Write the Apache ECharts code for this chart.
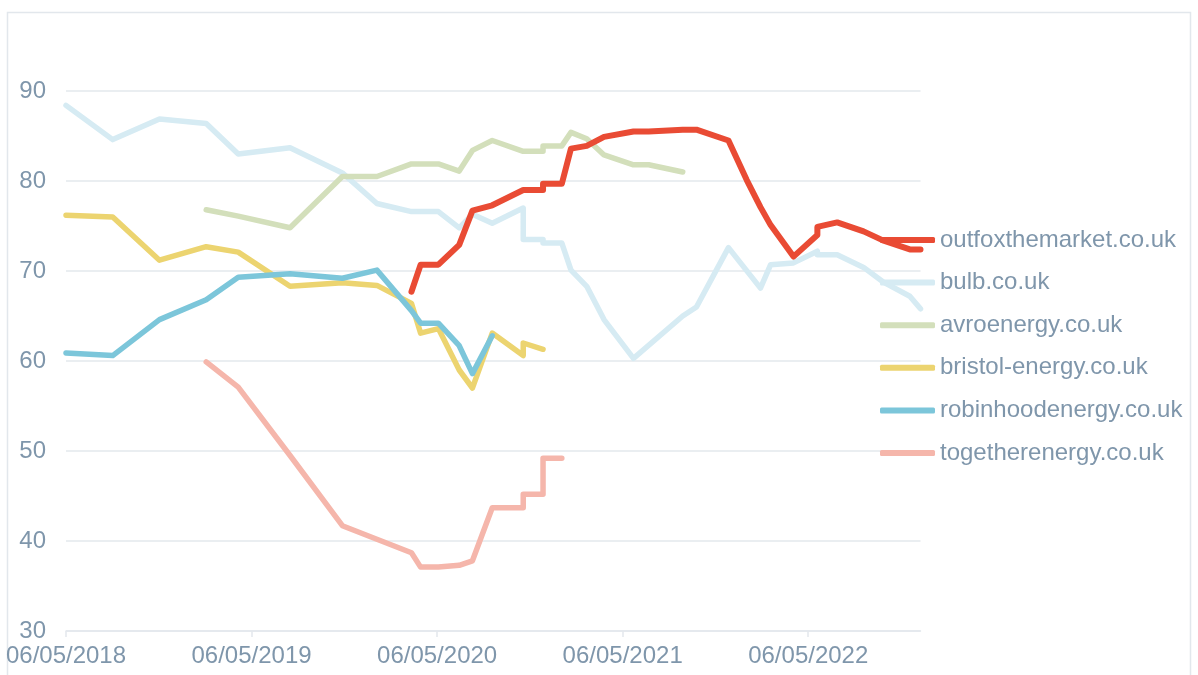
<!DOCTYPE html>
<html>
<head>
<meta charset="utf-8">
<script src="https://cdn.jsdelivr.net/npm/echarts@6/dist/echarts.min.js"></script>
<style>
  html, body { margin: 0; padding: 0; background: #ffffff; }
  #chart { width: 1198px; height: 675px; }
</style>
</head>
<body>
<div id="chart"></div>
<script>
// ---- data ----
const START_DATE = '2018-05-06';
const END_DATE = '2022-12-13';
const tickDays = [0, 365.25, 730.5, 1095.75, 1461];
const yTicks = [30, 40, 50, 60, 70, 80, 90];

const seriesNames = ['outfoxthemarket.co.uk', 'bulb.co.uk', 'avroenergy.co.uk',
  'bristol-energy.co.uk', 'robinhoodenergy.co.uk', 'togetherenergy.co.uk'];

const bulbDates = ['2018-05-06','2018-08-06','2018-11-06','2019-02-06','2019-04-10','2019-07-21','2019-11-01',
  '2020-01-08','2020-03-16','2020-05-08','2020-06-18','2020-07-14','2020-08-22','2020-10-22','2020-10-22',
  '2020-11-30','2020-11-30','2021-01-06','2021-01-24','2021-02-24','2021-03-30','2021-05-27','2021-09-01',
  '2021-09-28','2021-11-30','2022-02-01','2022-02-21','2022-04-07','2022-05-24','2022-05-24','2022-07-02',
  '2022-08-23','2022-09-30','2022-11-22','2022-12-13'];
const bulbValues = [88.4,84.6,86.9,86.4,83.0,83.7,80.9,77.5,76.6,76.6,74.8,76.3,75.3,77.0,73.5,
  73.5,73.1,73.1,70.1,68.3,64.6,60.3,65.0,66.0,72.6,68.1,70.7,70.9,72.2,71.8,71.8,70.4,68.8,67.2,65.8];

const avroDates = ['2019-02-06','2019-04-10','2019-07-21','2019-11-01','2020-01-08','2020-03-16','2020-05-08',
  '2020-06-18','2020-07-14','2020-08-22','2020-10-22','2020-11-30','2020-11-30','2021-01-06','2021-01-24',
  '2021-02-24','2021-03-30','2021-05-27','2021-06-26','2021-09-01'];
const avroValues = [76.8,76.1,74.8,80.5,80.5,81.9,81.9,81.1,83.4,84.5,83.3,83.3,83.9,83.9,85.4,
  84.7,82.9,81.8,81.8,81.0];

const bristolDates = ['2018-05-06','2018-08-06','2018-11-06','2019-02-06','2019-04-10','2019-07-21','2019-11-01',
  '2020-01-08','2020-03-16','2020-04-03','2020-05-08','2020-06-18','2020-07-14','2020-08-22','2020-10-22',
  '2020-10-22','2020-11-30'];
const bristolValues = [76.2,76.0,71.2,72.7,72.1,68.3,68.7,68.4,66.4,63.1,63.6,59.0,57.0,63.1,60.6,62.0,61.3];

const robinDates = ['2018-05-06','2018-08-06','2018-11-06','2019-02-06','2019-04-10','2019-07-21','2019-11-01',
  '2020-01-08','2020-03-16','2020-04-03','2020-05-08','2020-06-18','2020-07-14','2020-08-22'];
const robinValues = [60.9,60.6,64.6,66.8,69.3,69.7,69.2,70.1,65.6,64.2,64.2,61.7,58.6,62.8];

const togetherDates = ['2019-02-06','2019-04-10','2019-07-21','2019-11-01','2020-01-08','2020-03-16','2020-04-03',
  '2020-05-08','2020-06-18','2020-07-14','2020-08-22','2020-10-22','2020-10-22','2020-11-30','2020-11-30','2021-01-06'];
const togetherValues = [59.9,57.1,49.5,41.7,40.2,38.7,37.1,37.1,37.3,37.8,43.7,43.7,45.2,45.2,49.2,49.2];

const outfoxDates = ['2020-03-16','2020-04-03','2020-05-08','2020-06-18','2020-07-14','2020-08-22','2020-10-22',
  '2020-11-30','2020-11-30','2021-01-06','2021-01-24','2021-02-24','2021-03-30','2021-05-27','2021-06-26',
  '2021-09-01','2021-09-28','2021-11-30','2022-01-05','2022-02-01','2022-02-21','2022-04-07','2022-05-24',
  '2022-05-24','2022-07-02','2022-08-23','2022-09-30','2022-11-22','2022-12-13'];
const outfoxValues = [67.7,70.7,70.7,72.9,76.7,77.3,79.0,79.0,79.7,79.7,83.6,83.9,84.9,85.5,85.5,
  85.7,85.7,84.5,80.1,77.1,75.1,71.6,74.0,74.9,75.4,74.4,73.4,72.4,72.4];

// ---- helpers ----
const DAY = 86400000;
function toUTC(s) { const p = s.split('-').map(Number); return Date.UTC(p[0], p[1] - 1, p[2]); }
const startMs = toUTC(START_DATE);
function dayIndex(s) { return Math.round((toUTC(s) - startMs) / DAY); }
function pairs(dates, values) { return dates.map((d, i) => [dayIndex(d), values[i]]); }
function fmt(v) {
  const d = new Date(startMs + Math.round(v) * DAY);
  const dd = String(d.getUTCDate()).padStart(2, '0');
  const mm = String(d.getUTCMonth() + 1).padStart(2, '0');
  return dd + '/' + mm + '/' + d.getUTCFullYear();
}

const TEXT = '#7f96ab';
const GRID = '#e3e8ed';
const FONT = '"Liberation Sans", Arial, sans-serif';

function mk(name, data, color, width, z) {
  return {
    name: name, type: 'line', data: data, symbol: 'none', showSymbol: false, z: z,
    lineStyle: { color: color, width: width, cap: 'round', join: 'round' },
    itemStyle: { color: color },
    emphasis: { disabled: true }
  };
}

const series = [
  mk(seriesNames[1], pairs(bulbDates, bulbValues), '#d6ebf3', 5.5, 2),
  mk(seriesNames[2], pairs(avroDates, avroValues), '#d3dfbb', 5.5, 3),
  mk(seriesNames[5], pairs(togetherDates, togetherValues), '#f5b6ab', 5.5, 4),
  mk(seriesNames[3], pairs(bristolDates, bristolValues), '#ecd470', 5.5, 5),
  mk(seriesNames[4], pairs(robinDates, robinValues), '#7cc6da', 5.5, 6),
  mk(seriesNames[0], pairs(outfoxDates, outfoxValues), '#e94b34', 6, 7)
];

const chart = echarts.init(document.getElementById('chart'), null, { renderer: 'canvas' });
chart.setOption({
  animation: false,
  backgroundColor: '#ffffff',
  textStyle: { fontFamily: FONT },
  graphic: [{
    type: 'rect', silent: true, z: -10,
    shape: { x: 7.5, y: 12.5, width: 1183, height: 700 },
    style: { fill: 'none', stroke: '#e2e7ec', lineWidth: 1.5 }
  }],
  grid: { left: 66, right: 277.5, top: 91, bottom: 44, containLabel: false },
  legend: {
    data: seriesNames,
    orient: 'vertical',
    left: 880, top: 228,
    padding: 0,
    icon: 'roundRect',
    itemWidth: 55, itemHeight: 6, itemGap: 18.6,
    textStyle: { color: TEXT, fontSize: 24, fontFamily: FONT, lineHeight: 24, padding: [0, 0, 0, 0] },
    selectedMode: false
  },
  xAxis: {
    type: 'value',
    min: 0,
    max: dayIndex(END_DATE),
    axisLine: { show: true, lineStyle: { color: GRID, width: 1.5 } },
    axisTick: { show: true, length: 6, customValues: tickDays, lineStyle: { color: GRID, width: 1.5 } },
    axisLabel: { customValues: tickDays, formatter: fmt, color: TEXT, fontSize: 24, fontFamily: FONT, margin: 13 },
    splitLine: { show: false }
  },
  yAxis: {
    type: 'value',
    min: yTicks[0], max: yTicks[yTicks.length - 1], interval: 10,
    axisLine: { show: false },
    axisTick: { show: false },
    axisLabel: { color: TEXT, fontSize: 24, fontFamily: FONT, margin: 20 },
    splitLine: { show: true, lineStyle: { color: GRID, width: 1.5 } }
  },
  series: series
});
</script>
</body>
</html>
